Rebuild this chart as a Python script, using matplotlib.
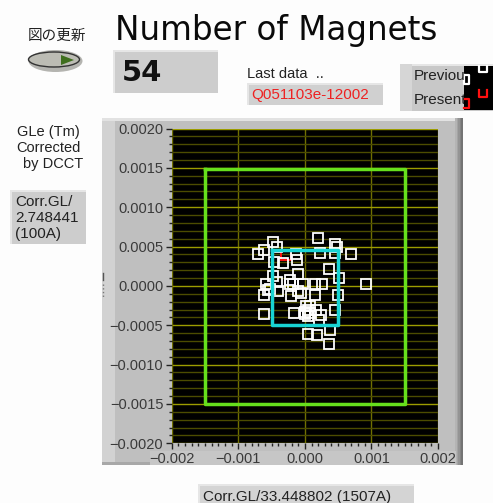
import matplotlib
matplotlib.use('Agg')
import matplotlib.pyplot as plt
import numpy as np
from matplotlib.patches import Rectangle, Ellipse, Polygon

# white squares
prev_x = [0.00020, -0.00048, -0.00042, -0.00062, -0.00070, 0.00046, 0.00048, 0.00070, 0.00023,
          0.00045, -0.00013, -0.00012, -0.00033, -0.00046, 0.00037, -0.00048, -0.00011, -0.00023,
          -0.00042, 0.00052, -0.00058, -0.00023, 0.00092, 0.00015, 0.00026, -0.00056, -0.00041,
          -0.00061, -0.00021, -0.00006, -0.00003, 0.00015, 0.00050, 0.00045, -0.00016, 0.00000,
          0.00005, 0.00007, 0.00017, 0.00025, 0.00022, -0.00061, 0.00005, 0.00018, 0.00038,
          0.00036, 0.00002, 0.00007, -0.00018, -0.00010, 0.00000, 0.00005, -0.00052]
prev_y = [0.00061, 0.00056, 0.00049, 0.00045, 0.00041, 0.00053, 0.00050, 0.00041, 0.00042,
          0.00042, 0.00040, 0.00033, 0.00029, 0.00031, 0.00021, 0.00012, 0.00015, 0.00008,
          0.00005, 0.00010, 0.00002, 0.00003, 0.00002, 0.00003, 0.00003, -0.00005, -0.00007,
          -0.00012, -0.00013, -0.00009, 0.00002, -0.00012, -0.00011, -0.00030, -0.00034, -0.00033,
          -0.00030, -0.00034, -0.00031, -0.00037, -0.00043, -0.00036, -0.00061, -0.00062, -0.00056,
          -0.00074, -0.00026, -0.00026, 0.00002, -0.00007, -0.00036, -0.00038, -0.00004]
present_x = [-0.00028]
present_y = [0.00039]

outer_x = [-0.0015, 0.0015, 0.0015, -0.0015, -0.0015]
outer_y = [0.00149, 0.00149, -0.0015, -0.0015, 0.00149]
inner_x = [-0.0005, 0.0005, 0.0005, -0.0005, -0.0005]
inner_y = [0.00046, 0.00046, -0.0005, -0.0005, 0.00046]

x_ticks = [-0.002, -0.001, 0.0, 0.001, 0.002]
y_ticks = [-0.002, -0.0015, -0.001, -0.0005, 0.0, 0.0005, 0.001, 0.0015, 0.002]

W, H = 493, 503
TICK_FONT = 'Liberation Sans'

fig = plt.figure(figsize=(W / 100, H / 100), dpi=100, facecolor='#fdfdfd')

# layer in pixel coordinates for the front panel controls
ui = fig.add_axes([0, 0, 1, 1], zorder=0)
ui.set_xlim(0, W)
ui.set_ylim(H, 0)
ui.axis('off')


def box(x0, y0, x1, y1, color, z=1):
    ui.add_patch(Rectangle((x0, y0), x1 - x0, y1 - y0, facecolor=color, edgecolor='none', zorder=z))


def raised(x0, y0, x1, y1, color='#cdcdcd'):
    box(x0, y0, x1, y1, color)
    box(x0, y0, x1, y0 + 1.5, '#e6e6e6', 2)
    box(x0, y0, x0 + 1.5, y1, '#e6e6e6', 2)


def label(x, y, s, size=9, color='#222222', **kw):
    kw.setdefault('family', TICK_FONT)
    return ui.text(x, y, s, fontsize=size, color=color, va='center', zorder=5, **kw)


# big graph panel
box(102, 118, 463, 465, '#bfbfbf')
box(102, 118, 115, 465, '#d2d2d2', 2)
box(102, 118, 463, 121, '#e2e2e2', 2)
box(102, 462, 463, 465, '#a8a8a8', 2)
for i, c in enumerate(['#b4b4b4', '#a4a4a4', '#949494', '#848484', '#747474']):
    box(455 + i * 1.6, 118, 456.6 + i * 1.6, 465, c, 2)
box(150, 451, 456, 465, '#c6c6c6', 2)

# refresh button
label(28, 36, '図の更新', size=10.5, family='Noto Sans CJK JP')
ui.add_patch(Ellipse((55.5, 61), 54, 22, facecolor='#b4b4b0', edgecolor='none', zorder=1))
ui.add_patch(Ellipse((54, 59.5), 51, 15, facecolor='#bcbcb4', edgecolor='#333333', lw=1.0, zorder=2))
ui.add_patch(Polygon([(61, 55), (61, 65), (74, 60)], closed=True, facecolor='#3f6f1e', edgecolor='none', zorder=3))

# title and counter
label(115, 30, 'Number of Magnets', size=23.5, color='#0a0a0a', family='DejaVu Sans')
raised(113, 50, 218, 93)
label(122, 73, '54', size=21, color='#111111', family='DejaVu Sans', fontweight='bold')

# last data
label(247, 74, 'Last data  ..', size=10.5)
raised(247, 83, 383, 105, '#d0d0d0')
label(251, 95, 'Q051103e-12002', size=11, color='#ee2222')

# legend
raised(400, 64, 493, 111, '#c8c8c8')
box(400, 64, 412, 111, '#d6d6d6', 2)
clip = Rectangle((412, 64), 52, 47, transform=ui.transData)
for y, s in [(76, 'Previous'), (100, 'Present')]:
    t = label(414, y, s, size=11)
    t.set_clip_path(clip)
    t.set_clip_on(True)
box(464, 66, 493, 110, '#000000', 3)
ui.add_line(plt.Line2D([464, 468.5, 468.5, 464, 464], [75, 75, 83.5, 83.5, 75], color='white', lw=1.6, zorder=4))
ui.add_line(plt.Line2D([478.5, 478.5, 487, 487], [66, 72, 72, 66], color='white', lw=1.6, zorder=4))
ui.add_line(plt.Line2D([464, 468.5, 468.5, 464], [99, 99, 108, 108], color='#ff1010', lw=1.6, zorder=4))
ui.add_line(plt.Line2D([478.5, 478.5, 487, 487], [90, 97, 97, 90], color='#ff1010', lw=1.6, zorder=4))

# left side labels
label(17, 132, 'GLe (Tm)', size=10.5)
label(16, 148, 'Corrected', size=10.5)
label(23, 164, 'by DCCT', size=10.5)
raised(10, 190, 86, 244)
label(15, 202, 'Corr.GL/', size=11)
label(15, 218, '2.748441', size=11)
label(15, 234, '(100A)', size=11)

# stray marks of the clipped axis title
ui.plot([103, 103], [273, 280], color='#555555', lw=1, zorder=5)
ui.plot([103, 103], [284, 297], color='#777777', lw=1, ls=':', zorder=5)

# bottom label
raised(198, 484, 414, 503, '#d4d4d4')
label(203, 497, 'Corr.GL/33.448802 (1507A)', size=11)

# graph
ax = fig.add_axes([171.7 / W, 1 - 443.3 / H, 266.3 / W, 314.8 / H], zorder=1, facecolor='black')
ax.set_xlim(-0.002, 0.002)
ax.set_ylim(-0.002, 0.002)
for s in ax.spines.values():
    s.set_visible(False)

ax.set_xticks(x_ticks)
ax.set_yticks(y_ticks)
ax.set_xticklabels(['\u22120.002', '\u22120.001', '0.000', '0.001', '0.002'])
ax.set_yticklabels(['\u22120.0020', '\u22120.0015', '\u22120.0010', '\u22120.0005', '0.0000',
                    '0.0005', '0.0010', '0.0015', '0.0020'])
ax.set_xticks(np.arange(-0.002, 0.00201, 0.0001), minor=True)
ax.set_yticks(np.arange(-0.002, 0.00201, 0.0001), minor=True)
ax.tick_params(which='major', length=4, width=1, color='#222222', labelsize=10.5, labelcolor='#3a3a3a', pad=2)
ax.tick_params(which='minor', length=2.5, width=1, color='#222222')
for t in ax.get_xticklabels() + ax.get_yticklabels():
    t.set_family(TICK_FONT)

ax.grid(True, which='minor', axis='y', color='#4c4c00', lw=1)
ax.grid(True, which='major', axis='y', color='#9c9c00', lw=1)
ax.grid(True, which='major', axis='x', color='#707000', lw=1)
ax.set_axisbelow(True)

ax.plot(present_x, present_y, 's', ms=7, mfc='none', mec='#ff1010', mew=1.4, zorder=3)
ax.plot(prev_x, prev_y, 's', ms=7, mfc='none', mec='white', mew=1.3, zorder=4)
ax.plot(outer_x, outer_y, color='#66e01c', lw=2.5, zorder=5)
ax.plot(inner_x, inner_y, color='#18d4d4', lw=2.5, zorder=6)

fig.savefig('out.png', dpi=100, facecolor=fig.get_facecolor())
